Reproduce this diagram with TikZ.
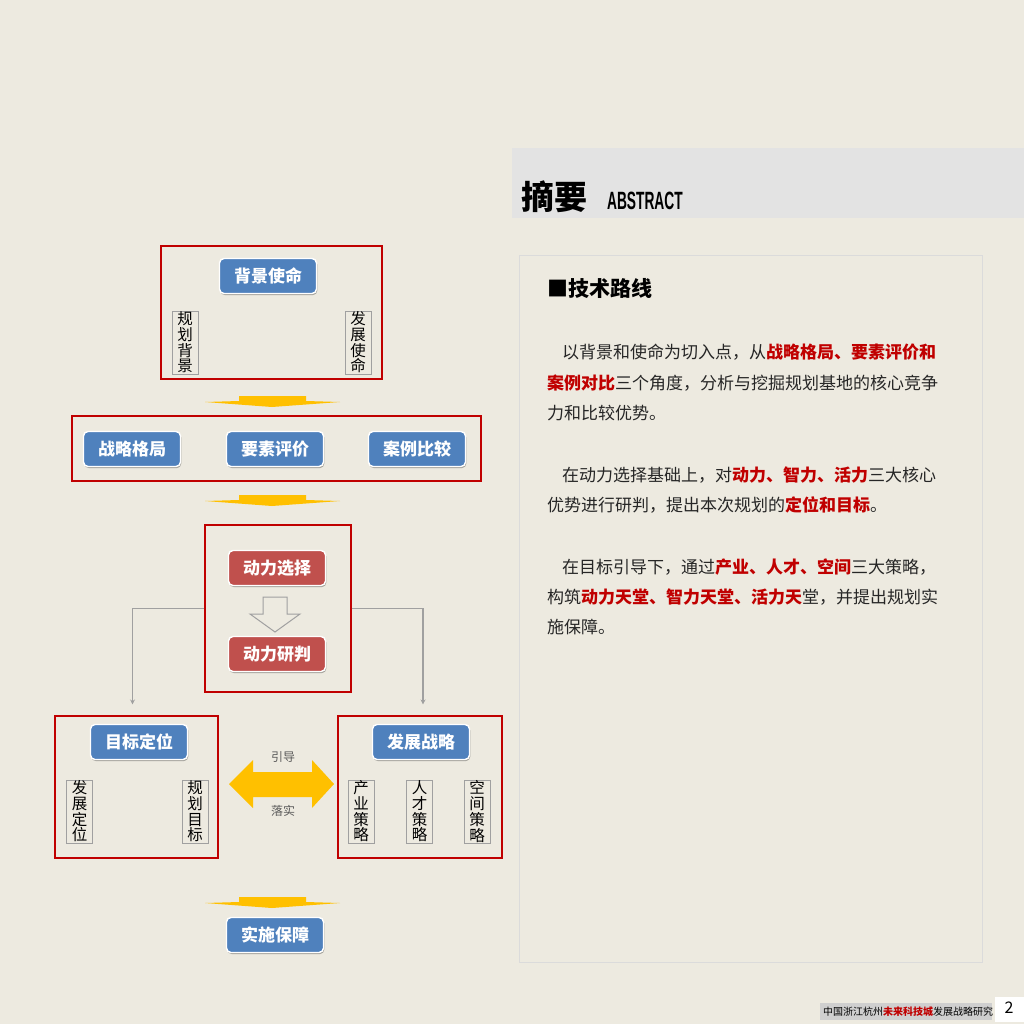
\documentclass[tikz,border=0pt]{standalone}
\usepackage{fontspec}
\setmainfont{Noto Sans CJK SC}
\newfontfamily\latinb{Liberation Sans}
\usepackage{xcolor}
\usetikzlibrary{calc,arrows.meta,shadows,positioning}
\definecolor{paper}{HTML}{EDEAE0}
\definecolor{band}{HTML}{E3E3E3}
\definecolor{frame}{HTML}{C00000}
\definecolor{btnblue}{HTML}{4F81BD}
\definecolor{btnred}{HTML}{C0504D}
\definecolor{arrowy}{HTML}{FFC000}
\definecolor{lineg}{HTML}{A0A0A0}
\definecolor{hred}{HTML}{C00000}
\definecolor{footg}{HTML}{CFCFCF}
\newcommand{\fs}[1]{\fontsize{#1}{#1}\selectfont}
\newcommand{\hl}[1]{{\color{hred}\bfseries #1}}
\newcommand{\ydown}[2]{\fill[arrowy] (#1-33,#2) -- (#1+34,#2) -- (#1+34,#2+5) -- (#1+68,#2+6) -- (#1,#2+11) -- (#1-67,#2+6) -- (#1-33,#2+5) -- cycle;}

\begin{document}
\begin{tikzpicture}[x=1pt,y=-1pt,
  btn/.style={rounded corners=4.5pt,fill=btnblue,draw=white,line width=1.4pt,minimum width=97pt,minimum height=35pt,inner sep=0pt,text=white,font=\fs{17}\bfseries,drop shadow={shadow xshift=0.8pt,shadow yshift=-1.6pt,opacity=0.3,fill=black}},
  btnr/.style={btn,fill=btnred},
  redframe/.style={draw=frame,line width=1.1pt,inner sep=0pt},
  vtag/.style={draw=lineg,line width=0.7pt,minimum width=26pt,minimum height=63pt,inner sep=0pt,align=center,font=\fontsize{15.5}{15.7}\selectfont},
  conn/.style={draw=lineg,line width=1.2pt,-{Stealth[length=5pt,width=5pt]}},
  para/.style={anchor=west,inner sep=0pt,font=\fs{17},text=black!85}]
\useasboundingbox (0,0) rectangle (1024,1024);
\fill[paper] (0,0) rectangle (1024,1024);
% header band and text panel
\fill[band] (512,148) rectangle (1024,218);
\node[anchor=base west,inner sep=0pt,font=\fs{33}\bfseries] (ttl) at (521,210) {摘要};
\node[anchor=base west,inner sep=0pt,font=\latinb\fs{25}\bfseries,xscale=0.55] (ttlen) at (607,210) {ABSTRACT};
\draw[draw=black!14,line width=0.8pt] (519,255) rectangle (982,962);
% left diagram: frames
\node[redframe,minimum width=221pt,minimum height=133pt] (fA) at (271.5,312.5) {};
\node[redframe,minimum width=409pt,minimum height=65pt] (fB) at (276.5,448.5) {};
\node[redframe,minimum width=146pt,minimum height=167pt] (fC) at (278,608.5) {};
\node[redframe,minimum width=163pt,minimum height=142pt] (fL) at (136.5,787) {};
\node[redframe,minimum width=164pt,minimum height=142pt] (fR) at (420,787) {};
% buttons
\node[btn] (bjsm) at (268,276) {背景使命};
\node[btn] (zlgj) at (132,449) {战略格局};
\node[btn] (ysp) at (275,449) {要素评价};
\node[btn] (albj) at (417,449) {案例比较};
\node[btnr] (dlxz) at (277,568) {动力选择};
\node[btnr] (dlyp) at (277,654) {动力研判};
\node[btn] (mbdw) at (139,742) {目标定位};
\node[btn] (fzzl) at (421,742) {发展战略};
\node[btn] (sbzz) at (275,935) {实施保障};
% vertical tags
\node[vtag] (ghbj) at (185,342.5) {规\\划\\背\\景};
\node[vtag] (fzsm) at (358,342.5) {发\\展\\使\\命};
\node[vtag] (fzdw) at (79.5,811.5) {发\\展\\定\\位};
\node[vtag] (ghmb) at (195,811.5) {规\\划\\目\\标};
\node[vtag] (cycl) at (361,811.5) {产\\业\\策\\略};
\node[vtag] (rccl) at (419.5,811.5) {人\\才\\策\\略};
\node[vtag] (kjcl) at (477,811.5) {空\\间\\策\\略};
% yellow arrows
\ydown{272}{396}
\ydown{272}{495}
\ydown{272}{897}
\fill[arrowy] (229,784) -- (253,760) -- (253,772) -- (312,772) -- (312,760) -- (334,784) -- (312,808) -- (312,797) -- (253,797) -- (253,808) -- cycle;
\node[font=\fs{12},text=black!65] (yd) at (283,757) {引导};
\node[font=\fs{12},text=black!65] (ls) at (283,811) {落实};
% hollow arrow and connectors
\draw[lineg,line width=1pt,fill=paper] (263,597) -- (287,597) -- (287,614) -- (300,614) -- (275,632) -- (250,614) -- (263,614) -- cycle;
\draw[conn,shorten >=11pt] (fC.west) -| ([xshift=-4pt]fL.north);
\draw[conn,shorten >=11pt] (fC.east) -| ([xshift=3pt]fR.north);
% right text
\node[anchor=west,inner sep=0pt,font=\fs{21}\bfseries] (jslx) at (547,288) {■技术路线};
\node[para] (p1) at (562,352) {以背景和使命为切入点，从\hl{战略格局、要素评价和}};
\node[para] (p2) at (547,383) {\hl{案例对比}三个角度，分析与挖掘规划基地的核心竞争};
\node[para] (p3) at (547,413) {力和比较优势。};
\node[para] (p4) at (562,475) {在动力选择基础上，对\hl{动力、智力、活力}三大核心};
\node[para] (p5) at (547,505) {优势进行研判，提出本次规划的\hl{定位和目标}。};
\node[para] (p6) at (562,567) {在目标引导下，通过\hl{产业、人才、空间}三大策略，};
\node[para] (p7) at (547,597) {构筑\hl{动力天堂、智力天堂、活力天}堂，并提出规划实};
\node[para] (p8) at (547,627) {施保障。};
% footer
\fill[footg] (820,1003) rectangle (992,1020);
\fill[white] (995,997) rectangle (1024,1022);
\node[anchor=west,inner sep=0pt,font=\fs{10}] (foot) at (823,1012) {中国浙江杭州\hl{未来科技城}发展战略研究};
\node[font=\fs{16}] (pg) at (1009,1008) {2};
\end{tikzpicture}
\end{document}
